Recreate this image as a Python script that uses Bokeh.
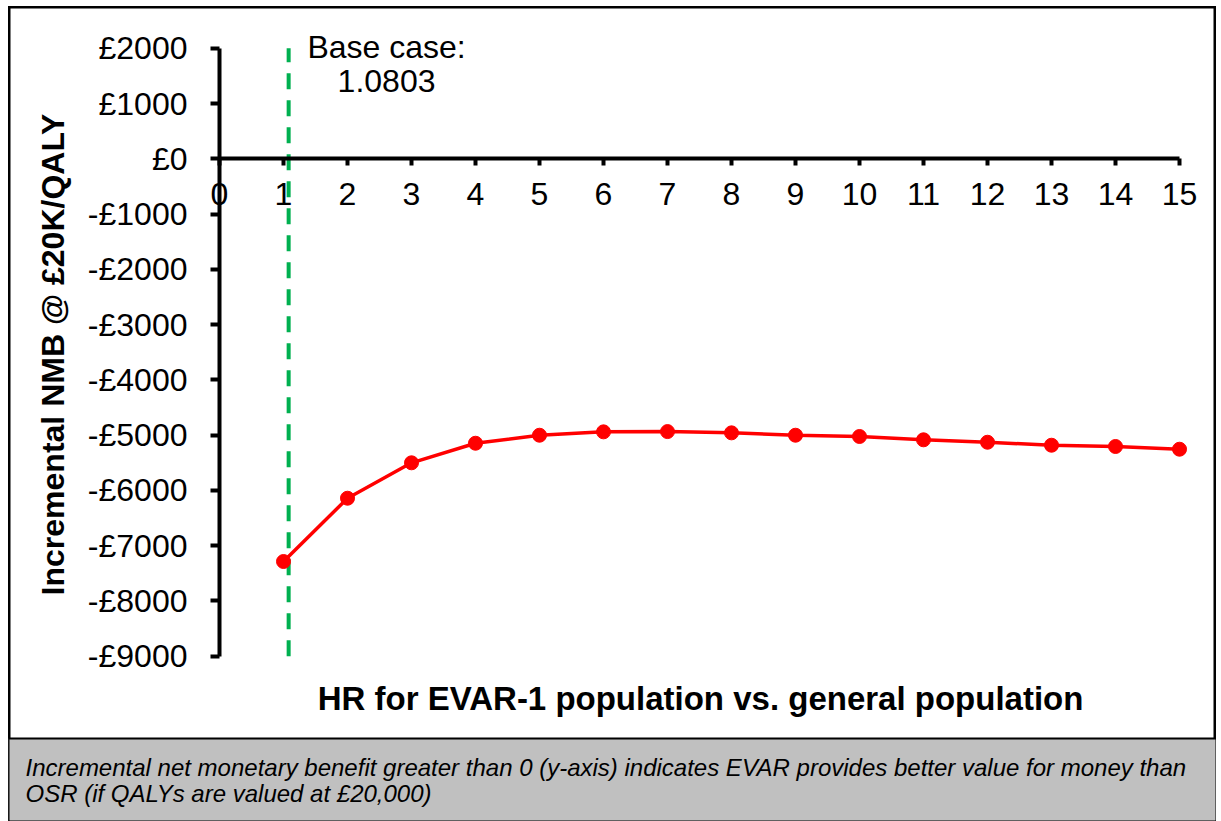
import math
from bokeh.plotting import figure
from bokeh.models import Range1d, FixedTicker, Label, BoxAnnotation
from bokeh.embed import file_html
from bokeh.resources import INLINE

# ---- data ----
hr_values = [1, 2, 3, 4, 5, 6, 7, 8, 9, 10, 11, 12, 13, 14, 15]
nmb_values = [-7286, -6141, -5500, -5146, -5001, -4940, -4935, -4958,
              -5001, -5024, -5084, -5128, -5182, -5205, -5254]
base_case = 1.0803
x_ticks = list(range(0, 16))
y_ticks = list(range(-9000, 2001, 1000))
y_tick_labels = {v: ("£%d" % v if v >= 0 else "-£%d" % (-v)) for v in y_ticks}
x_title = "HR for EVAR-1 population vs. general population"
y_title = "Incremental NMB @ £20K/QALY"
base_text_1 = "Base case:"
base_text_2 = "1.0803"
caption_1 = "Incremental net monetary benefit greater than 0 (y-axis) indicates EVAR provides better value for money than"
caption_2 = "OSR (if QALYs are valued at £20,000)"

FONT = "Liberation Sans"

# frame covers the whole canvas; axes are pinned through the origin
p = figure(width=1208, height=815,
           x_range=Range1d(-3.297, 15.578), y_range=Range1d(-11990, 2756),
           output_backend="svg", toolbar_location=None, title=None,
           min_border_left=0, min_border_right=0, min_border_top=0, min_border_bottom=0)
p.styles = {"margin-left": "8px", "margin-top": "6px"}
p.outline_line_color = "black"
p.outline_line_width = 4
p.grid.visible = False
p.background_fill_color = "white"
p.border_fill_color = "white"

# y axis pinned at x = 0
ya = p.yaxis[0]
ya.fixed_location = 0
ya.bounds = (y_ticks[0], y_ticks[-1])
ya.ticker = FixedTicker(ticks=y_ticks)
ya.major_label_overrides = y_tick_labels
ya.axis_line_width = 4
ya.axis_line_color = "black"
ya.major_tick_line_width = 4
ya.major_tick_out = 9
ya.major_tick_in = 0
ya.minor_tick_line_color = None
ya.major_label_standoff = 23
ya.major_label_text_font = FONT
ya.major_label_text_font_size = "32px"
ya.major_label_text_color = "black"

# x axis pinned at y = 0
xa = p.xaxis[0]
xa.fixed_location = 0
xa.bounds = (x_ticks[0], x_ticks[-1])
xa.ticker = FixedTicker(ticks=x_ticks)
xa.axis_line_width = 4
xa.axis_line_color = "black"
xa.major_tick_line_width = 4
xa.major_tick_out = 7
xa.major_tick_in = 0
xa.minor_tick_line_color = None
xa.major_label_standoff = 17
xa.major_label_text_font = FONT
xa.major_label_text_font_size = "32px"
xa.major_label_text_color = "black"

# base case line
p.segment(x0=[base_case], y0=[y_ticks[0]], x1=[base_case], y1=[y_ticks[-1]],
          line_color="#00B050", line_width=4, line_dash="16 11")

# data series
p.line(hr_values, nmb_values, line_color="#FF0000", line_width=3.5)
p.scatter(hr_values, nmb_values, size=14, fill_color="#FF0000", line_color="#FF0000")

# texts
p.add_layout(Label(x=2.61, y=2032, text=base_text_1, text_align="center", text_baseline="alphabetic",
                   text_font=FONT, text_font_size="32px", text_color="black"))
p.add_layout(Label(x=2.61, y=1417, text=base_text_2, text_align="center", text_baseline="alphabetic",
                   text_font=FONT, text_font_size="32px", text_color="black"))
p.add_layout(Label(x=7.516, y=-9770, text=x_title, text_align="center", text_baseline="alphabetic",
                   text_font=FONT, text_font_size="33px", text_font_style="bold", text_color="black"))
p.add_layout(Label(x=-2.6075, y=-3541, text=y_title, angle=math.pi / 2,
                   text_align="center", text_baseline="alphabetic",
                   text_font=FONT, text_font_size="32px", text_font_style="bold", text_color="black"))

# caption band
p.add_layout(BoxAnnotation(top=-10488, fill_color="#C0C0C0", fill_alpha=1.0,
                           line_color="black", line_width=2, line_alpha=1.0))
p.add_layout(Label(x=-3.031, y=-11014, text=caption_1, text_align="left", text_baseline="alphabetic",
                   text_font=FONT, text_font_size="24px", text_font_style="italic", text_color="black"))
p.add_layout(Label(x=-3.031, y=-11480, text=caption_2, text_align="left", text_baseline="alphabetic",
                   text_font=FONT, text_font_size="24px", text_font_style="italic", text_color="black"))

open("out.html", "w").write(file_html(p, INLINE))
